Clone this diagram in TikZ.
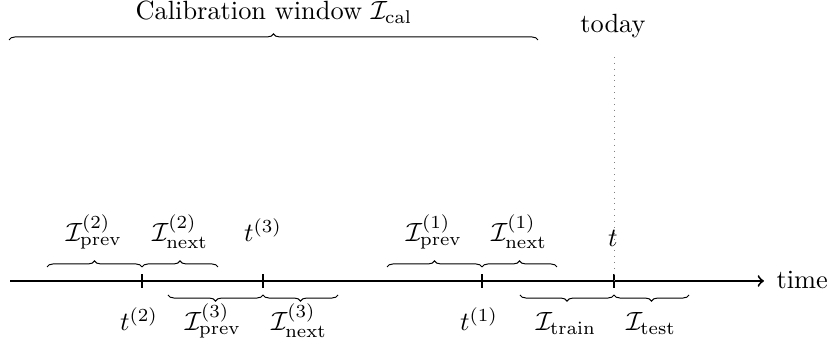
\documentclass[tikz,border=0pt]{standalone}
\usetikzlibrary{decorations.pathreplacing}
\begin{document}
\begin{tikzpicture}[x=0.0144cm,y=0.0144cm,
  axisline/.style={line width=0.8pt,->},
  tickline/.style={line width=0.8pt},
  bracetop/.style={decorate,decoration={brace},line width=0.4pt},
  bracebot/.style={decorate,decoration={brace,mirror},line width=0.4pt},
  lbl/.style={anchor=base,inner sep=0pt,scale=1.08},
  todayline/.style={dotted,gray,line width=0.4pt}]
\useasboundingbox (0,0) rectangle (828,352);
% axis
\coordinate (a0) at (10,71);
\coordinate (a1) at (764,71);
\draw[axisline] (a0) -- (a1);
\node[lbl,anchor=base west] (time) at (776,63) {time};
% ticks
\coordinate (t2) at (142,71);
\coordinate (t3) at (263,71);
\coordinate (t1) at (482,71);
\coordinate (t0) at (614,71);
\foreach \p in {t2,t3,t1,t0}{
  \draw[tickline] ([yshift=-7*0.0144cm]\p) -- ([yshift=7*0.0144cm]\p);
}
% today
\coordinate (td) at (614,295);
\draw[todayline] (td) -- (t0);
\node[lbl] (today) at (613,319) {today};
% calibration window
\coordinate (c0) at (9,312);
\coordinate (c1) at (538,312);
\draw[bracetop] (c0) -- (c1);
\node[lbl] (cal) at (274,332) {Calibration window $\mathcal{I}_{\mathrm{cal}}$};
% upper braces
\coordinate (u2a) at (47,85);  \coordinate (u2b) at (142,85); \coordinate (u2c) at (218,85);
\coordinate (u1a) at (387,85); \coordinate (u1b) at (482,85); \coordinate (u1c) at (557,85);
\draw[bracetop] (u2a) -- (u2b);
\draw[bracetop] (u2b) -- (u2c);
\draw[bracetop] (u1a) -- (u1b);
\draw[bracetop] (u1b) -- (u1c);
% lower braces
\coordinate (l3a) at (168,57); \coordinate (l3b) at (263,57); \coordinate (l3c) at (338,57);
\coordinate (l0a) at (520,57); \coordinate (l0b) at (614,57); \coordinate (l0c) at (689,57);
\draw[bracebot] (l3a) -- (l3b);
\draw[bracebot] (l3b) -- (l3c);
\draw[bracebot] (l0a) -- (l0b);
\draw[bracebot] (l0b) -- (l0c);
% upper labels
\node[lbl] (p2) at (94,110) {$\mathcal{I}_{\mathrm{prev}}^{(2)}$};
\node[lbl] (n2) at (180,110) {$\mathcal{I}_{\mathrm{next}}^{(2)}$};
\node[lbl] (lt3) at (263,110) {$t^{(3)}$};
\node[lbl] (p1) at (434,110) {$\mathcal{I}_{\mathrm{prev}}^{(1)}$};
\node[lbl] (n1) at (519,110) {$\mathcal{I}_{\mathrm{next}}^{(1)}$};
\node[lbl] (lt0) at (613,105) {$t$};
% lower labels
\node[lbl] (lt2) at (139,21) {$t^{(2)}$};
\node[lbl] (p3) at (213,21) {$\mathcal{I}_{\mathrm{prev}}^{(3)}$};
\node[lbl] (n3) at (299,21) {$\mathcal{I}_{\mathrm{next}}^{(3)}$};
\node[lbl] (lt1) at (479,21) {$t^{(1)}$};
\node[lbl] (tr) at (566,21) {$\mathcal{I}_{\mathrm{train}}$};
\node[lbl] (te) at (651,21) {$\mathcal{I}_{\mathrm{test}}$};
\end{tikzpicture}
\end{document}
